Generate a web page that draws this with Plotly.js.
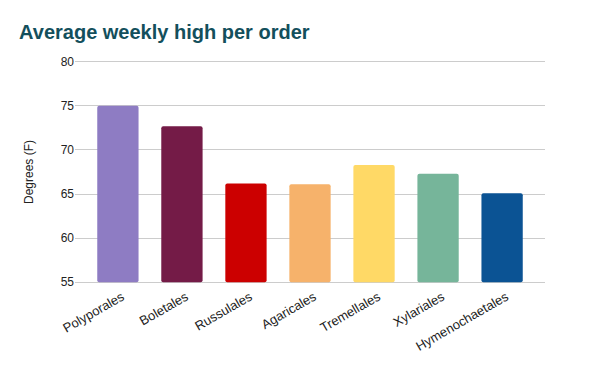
<!DOCTYPE html>
<html><head><meta charset="utf-8">
<script src="https://cdn.plot.ly/plotly-3.0.1.min.js"></script>
<style>html,body{margin:0;padding:0;background:#fff;}#chart{width:596px;height:371px;}</style>
</head><body><div id="chart"></div>
<script>
const categories = ["Polyporales","Boletales","Russulales","Agaricales","Tremellales","Xylariales","Hymenochaetales"];
const values = [75.0, 72.7, 66.2, 66.1, 68.3, 67.3, 65.1];
const colors = ["#8e7cc3","#741b47","#cc0000","#f6b26b","#ffd966","#76b59a","#0b5394"];
const yTicks = [55, 60, 65, 70, 75, 80];
const baseline = 55;

const trace = {
  type: "bar",
  x: categories,
  y: values.map(v => v - baseline),
  base: baseline,
  customdata: values,
  marker: {color: colors, cornerradius: 2},
  width: 0.645,
  hovertemplate: "%{x}: %{customdata}<extra></extra>"
};
const layout = {
  width: 596, height: 371,
  margin: {l: 75, r: 51, t: 59.5, b: 87},
  paper_bgcolor: "#fff", plot_bgcolor: "#fff",
  title: {text: "<b>Average weekly high per order</b>", x: 0.032, xanchor: "left", y: 0.915, yanchor: "middle",
          font: {family: "Liberation Sans, Arial, sans-serif", size: 20, color: "#134f5c"}},
  showlegend: false,
  xaxis: {range: [-0.67, 6.67], tickangle: -30, showgrid: false, zeroline: false, showline: false,
          ticks: "", ticklabelshift: 4, ticklabelstandoff: 2,
          tickfont: {family: "Liberation Sans, Arial, sans-serif", size: 13, color: "#222"}},
  yaxis: {range: [54.8, 80.2], tickvals: yTicks, showgrid: true, gridcolor: "#cccccc", gridwidth: 1, zeroline: false,
          showline: false, ticks: "", ticklen: 0, tickfont: {family: "Liberation Sans, Arial, sans-serif", size: 12, color: "#222"},
          title: {text: "Degrees (F)", standoff: 24, font: {family: "Liberation Sans, Arial, sans-serif", size: 12, color: "#222"}}}
};
Plotly.newPlot("chart", [trace], layout, {displayModeBar: false, staticPlot: true});
</script></body></html>
